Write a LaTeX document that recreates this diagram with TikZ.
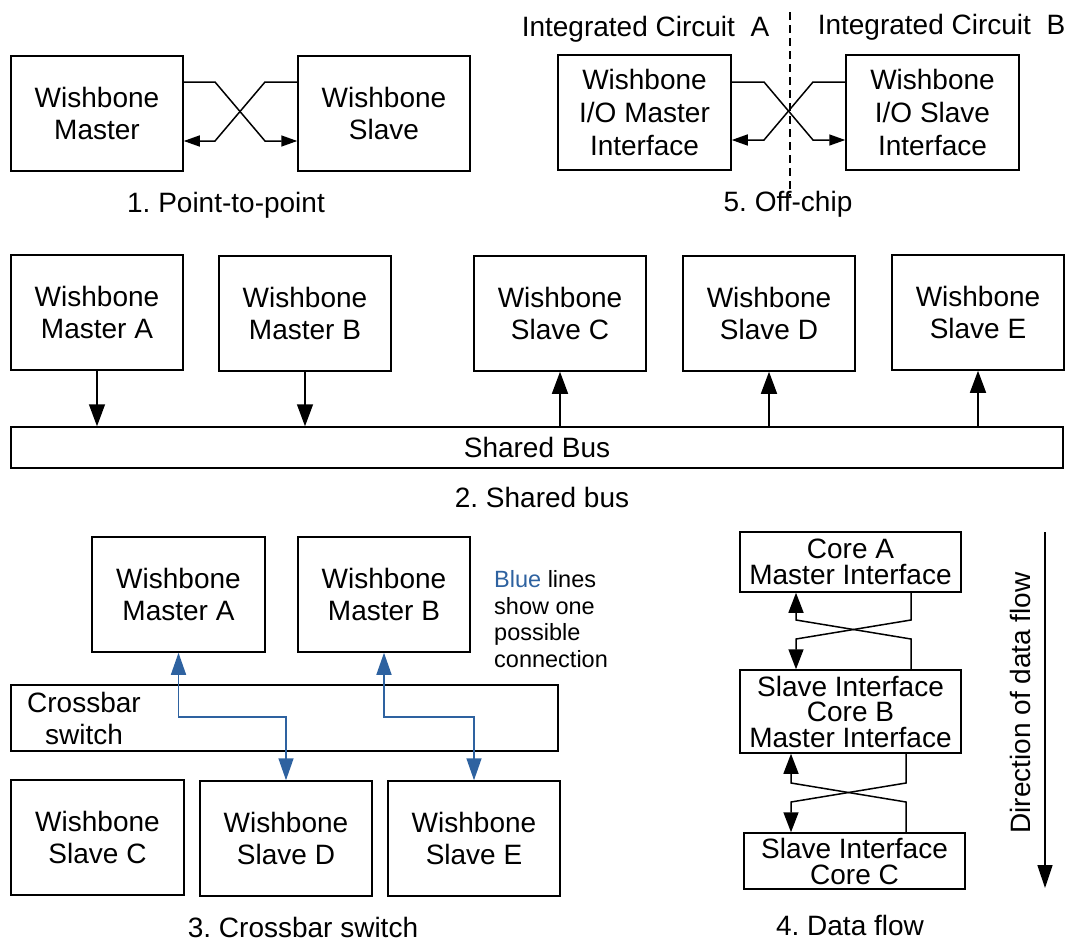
\documentclass[tikz,border=0pt]{standalone}
\usepackage{fontspec}
\setmainfont{Liberation Sans}
\usetikzlibrary{arrows.meta}
\definecolor{linkblue}{RGB}{46,98,160}
\frenchspacing
\begin{document}
\begin{tikzpicture}[x=1pt,y=-1pt,
  every node/.style={inner sep=0pt},
  txt/.style={font=\fontsize{28}{32}\selectfont},
  box/.style={draw,line width=1.5pt,align=center,font=\fontsize{28}{32}\selectfont},
  arr/.style={line width=1.5pt,-{Triangle[length=16pt,width=11pt]}},
  busarr/.style={line width=1.5pt,-{Triangle[length=22pt,width=16pt]}},
  bigarr/.style={line width=1.5pt,-{Triangle[length=20pt,width=15pt]}},
  barr/.style={draw=linkblue,line width=1.5pt,{Triangle[length=22pt,width=15pt]}-{Triangle[length=22pt,width=15pt]},color=linkblue}]
\useasboundingbox (0,0) rectangle (1071,943);

% ---- 1. Point-to-point
\node[box,minimum width=172pt,minimum height=115pt] (ma1) at (97,113.5) {Wishbone\\Master};
\node[box,minimum width=172pt,minimum height=115pt] (sl1) at (384,113.5) {Wishbone\\Slave};
\draw[arr] (ma1.east |- 0,82) -- (215,82) -- (265,141) -- (sl1.west |- 0,141);
\draw[arr] (sl1.west |- 0,82) -- (265,82) -- (215,141) -- (ma1.east |- 0,141);
\node[txt] (cap1) at (226,205) {1. Point-to-point};

% ---- 5. Off-chip
\node[txt] (ic1) at (645.5,29) {Integrated Circuit\ \ A};
\node[txt] (ic2) at (941.5,27) {Integrated Circuit\ \ B};
\coordinate (cut1) at (790,12);
\coordinate (cut2) at (790,196);
\draw[line width=1.5pt,dash pattern=on 8pt off 5pt] (cut1) -- (cut2);
\node[box,font=\fontsize{28}{33}\selectfont,minimum width=173pt,minimum height=115pt] (lm5) at (644.5,112.5) {Wishbone\\I/O Master\\Interface};
\node[box,font=\fontsize{28}{33}\selectfont,minimum width=173pt,minimum height=115pt] (rs5) at (932.5,112.5) {Wishbone\\I/O Slave\\Interface};
\draw[arr] (lm5.east |- 0,82) -- (764,82) -- (813,140) -- (rs5.west |- 0,140);
\draw[arr] (rs5.west |- 0,82) -- (813,82) -- (764,140) -- (lm5.east |- 0,140);
\node[txt] (cap5) at (788,204) {5. Off-chip};

% ---- 2. Shared bus
\node[box,minimum width=172pt,minimum height=115pt] (m2a) at (97,312.5) {Wishbone\\Master A};
\node[box,minimum width=172pt,minimum height=115pt] (m2b) at (305,313.5) {Wishbone\\Master B};
\node[box,minimum width=172pt,minimum height=115pt] (s2c) at (560,313.5) {Wishbone\\Slave C};
\node[box,minimum width=172pt,minimum height=115pt] (s2d) at (769,313.5) {Wishbone\\Slave D};
\node[box,minimum width=172pt,minimum height=115pt] (s2e) at (978,312.5) {Wishbone\\Slave E};
\node[box,minimum width=1052pt,minimum height=41pt] (bus) at (537,447.5) {Shared Bus};
\draw[busarr] (m2a.south) -- (m2a.south |- bus.north);
\draw[busarr] (m2b.south) -- (m2b.south |- bus.north);
\draw[busarr] (s2c.south |- bus.north) -- (s2c.south);
\draw[busarr] (s2d.south |- bus.north) -- (s2d.south);
\draw[busarr] (s2e.south |- bus.north) -- (s2e.south);
\node[txt] (cap2) at (542,497) {2. Shared bus};

% ---- 3. Crossbar switch
\node[box,minimum width=173pt,minimum height=115pt] (m3a) at (178.5,594.5) {Wishbone\\Master A};
\node[box,minimum width=172pt,minimum height=115pt] (m3b) at (384,594.5) {Wishbone\\Master B};
\node[anchor=west,align=left,font=\fontsize{23.5}{26.7}\selectfont] (note) at (494,619)
  {\textcolor{linkblue}{Blue} lines\\show one\\possible\\connection};
\node[box,minimum width=547pt,minimum height=66pt] (xbar) at (284.5,718) {};
\node[txt,align=center] (xlab) at (84,718) {Crossbar\\switch};
\node[box,minimum width=173pt,minimum height=115pt] (s3c) at (97.5,837.5) {Wishbone\\Slave C};
\node[box,minimum width=172pt,minimum height=115pt] (s3d) at (286,838.5) {Wishbone\\Slave D};
\node[box,minimum width=172pt,minimum height=115pt] (s3e) at (474,838.5) {Wishbone\\Slave E};
\coordinate (j1) at (232,717);
\coordinate (j2) at (430,717);
\draw[barr] (m3a.south) |- (j1) -| (s3d.north);
\draw[barr] (m3b.south) |- (j2) -| (s3e.north);
\node[txt] (cap3) at (303,927) {3. Crossbar switch};

% ---- 4. Data flow
\node[box,font=\fontsize{28}{26}\selectfont,minimum width=221pt,minimum height=60pt] (cA) at (850.5,562) {Core A\\Master Interface};
\node[box,font=\fontsize{28}{25.5}\selectfont,minimum width=221pt,minimum height=83pt] (cB) at (850.5,711.5) {Slave Interface\\Core B\\Master Interface};
\node[box,font=\fontsize{28}{26}\selectfont,minimum width=221pt,minimum height=56pt] (cC) at (854.5,861) {Slave Interface\\Core C};
\draw[bigarr] (cA.south -| 911,0) -- (911,620) -- (796,639) -- (cB.north -| 796,0);
\draw[bigarr] (cB.north -| 911,0) -- (911,639) -- (796,620) -- (cA.south -| 796,0);
\draw[bigarr] (cB.south -| 906,0) -- (906,783) -- (791,802) -- (cC.north -| 791,0);
\draw[bigarr] (cC.north -| 906,0) -- (906,802) -- (791,783) -- (cB.south -| 791,0);
\coordinate (dir1) at (1045,532);
\coordinate (dir2) at (1045,888);
\draw[line width=1.5pt,-{Triangle[length=23pt,width=15pt]}] (dir1) -- (dir2);
\node[txt,rotate=90] (dirlab) at (1020,703) {Direction of data flow};
\node[txt] (cap4) at (850,925) {4. Data flow};
\end{tikzpicture}
\end{document}
